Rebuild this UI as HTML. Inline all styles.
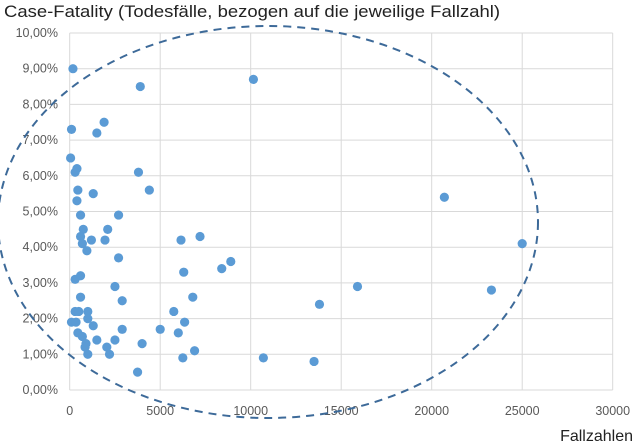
<!DOCTYPE html>
<html><head><meta charset="utf-8"><style>
body{margin:0;background:#fff;width:640px;height:448px;overflow:hidden}
svg{display:block;font-family:"Liberation Sans",sans-serif}
</style></head><body>
<svg id="chart" width="640" height="448">
<text x="4" y="17" font-size="17" textLength="496" lengthAdjust="spacingAndGlyphs" fill="#222">Case-Fatality (Todesfälle, bezogen auf die jeweilige Fallzahl)</text>
<g id="grid"></g><g id="ticks"></g><g id="pts"></g>
<ellipse cx="268" cy="222" rx="270" ry="196" fill="none" stroke="#3d6a99" stroke-width="2" stroke-dasharray="8,6"/>
<text x="633" y="441" font-size="16" text-anchor="end" fill="#222">Fallzahlen</text>
</svg>
<script>
const xTicks=[0,5000,10000,15000,20000,25000,30000];
const yTicks=[0,1,2,3,4,5,6,7,8,9,10];
const cases=[180,3900,10150,100,1900,1500,50,400,300,3800,450,4400,1300,400,600,2700,750,2100,600,700,1200,1950,950,2700,6150,7200,20700,25000,
300,600,2500,600,2900,300,500,1000,100,350,1000,1300,450,700,1500,900,850,1000,2050,2200,2500,2900,3750,4000,5000,5750,6350,6000,6250,6900,6800,6300,8400,8900,
10700,13500,13800,15900,23300];
const fatality=[9.0,8.5,8.7,7.3,7.5,7.2,6.5,6.2,6.1,6.1,5.6,5.6,5.5,5.3,4.9,4.9,4.5,4.5,4.3,4.1,4.2,4.2,3.9,3.7,4.2,4.3,5.4,4.1,
3.1,3.2,2.9,2.6,2.5,2.2,2.2,2.2,1.9,1.9,2.0,1.8,1.6,1.5,1.4,1.3,1.2,1.0,1.2,1.0,1.4,1.7,0.5,1.3,1.7,2.2,1.9,1.6,0.9,1.1,2.6,3.3,3.4,3.6,
0.9,0.8,2.4,2.9,2.8];
const X0=69.7,X1=612.7,Y0=390,Y1=33;
const sx=v=>X0+(v-xTicks[0])/(xTicks[xTicks.length-1]-xTicks[0])*(X1-X0);
const sy=v=>Y0-(v-yTicks[0])/(yTicks[yTicks.length-1]-yTicks[0])*(Y0-Y1);
const NS="http://www.w3.org/2000/svg";
const grid=document.getElementById('grid'),ticks=document.getElementById('ticks'),pts=document.getElementById('pts');
function mk(tag,at,parent){const e=document.createElementNS(NS,tag);for(const k in at)e.setAttribute(k,at[k]);parent.appendChild(e);return e;}
yTicks.forEach(v=>{
 const l=mk('line',{x1:X0,x2:X1,y1:sy(v),y2:sy(v),stroke:'#d9d9d9','stroke-width':1},grid);
 
 
 const t=mk('text',{x:58,y:sy(v)+4,'font-size':12.5,'text-anchor':'end',fill:'#595959'},ticks);
 t.textContent=v.toFixed(2).replace('.',',')+'%';
 
 
});
xTicks.forEach(v=>{
 const l=mk('line',{x1:sx(v),x2:sx(v),y1:Y1,y2:Y0,stroke:'#d9d9d9','stroke-width':1},grid);
 
 
 const t=mk('text',{x:sx(v),y:415,'font-size':12.5,'text-anchor':'middle',fill:'#595959'},ticks);
 t.textContent=String(v);
 
 
});
cases.forEach((c,i)=>{
 const p=mk('circle',{cx:sx(c),cy:sy(fatality[i]),r:4.6,fill:'#5b9bd5'},pts);
 
 
});
</script>
</body></html>
